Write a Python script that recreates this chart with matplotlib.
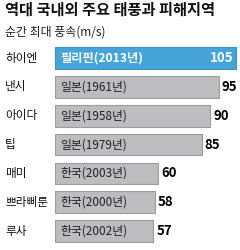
import matplotlib.pyplot as plt
from matplotlib.transforms import blended_transform_factory

plt.rcParams['font.family'] = ['Noto Sans CJK KR', 'DejaVu Sans']

names = ['하이엔', '낸시', '아이다', '팁', '매미', '쁘라삐룬', '루사']
places = ['필리핀(2013년)', '일본(1961년)', '일본(1958년)', '일본(1979년)',
          '한국(2003년)', '한국(2000년)', '한국(2002년)']
speeds = [105, 95, 90, 85, 60, 58, 57]

fig = plt.figure(figsize=(2.4, 2.5), dpi=100)
fig.patch.set_facecolor('white')
ax = fig.add_axes([55 / 240, 0.018, 0.769, 0.807])

y = list(range(len(names)))
colors = ['#47a4d8'] + ['#bdbdbf'] * (len(names) - 1)
edges = ['#3b92c8'] + ['#9c9c9e'] * (len(names) - 1)
ax.barh(y, speeds, height=0.75, color=colors, edgecolor=edges, linewidth=0.8)

ax.set_xlim(0, 107)
ax.set_ylim(len(names) - 0.5, -0.5)
ax.axis('off')

lab = blended_transform_factory(fig.transFigure, ax.transData)
for i, (n, p, v) in enumerate(zip(names, places, speeds)):
    ax.text(5 / 240, i, n, transform=lab, ha='left', va='center',
            fontsize=8.4, color='#111111')
    if i == 0:
        ax.text(3, i, p, ha='left', va='center', fontsize=8.8,
                fontweight='bold', color='white')
        ax.text(v - 1.5, i, str(v), ha='right', va='center', fontsize=9.5,
                fontweight='bold', color='white')
    else:
        ax.text(3, i, p, ha='left', va='center', fontsize=8.5,
                color='#222222')
        ax.text(v + 1.8, i, str(v), ha='left', va='center', fontsize=9.5,
                fontweight='bold', color='black')

fig.text(5 / 240, 1 - 2 / 250, '역대 국내외 주요 태풍과 피해지역',
         ha='left', va='top', fontsize=11, fontweight='bold', color='#111111')
fig.text(5 / 240, 1 - 32 / 250, '순간 최대 풍속(m/s)',
         ha='left', va='center', fontsize=8.6, color='#222222')

fig.savefig('out.png', dpi=100, facecolor='white')
